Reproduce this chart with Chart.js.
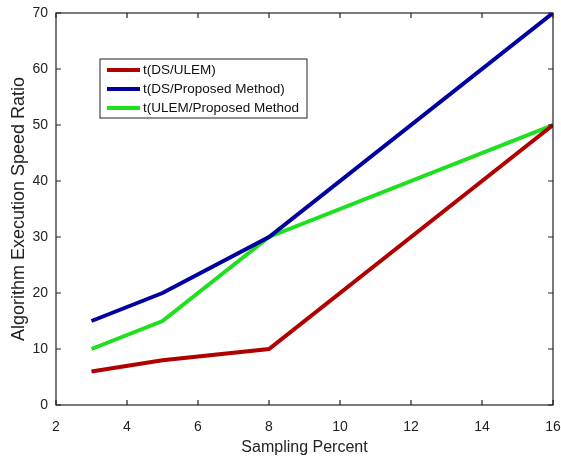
<!DOCTYPE html>
<html>
<head>
<meta charset="utf-8">
<script src="https://cdn.jsdelivr.net/npm/chart.js@4"></script>
<style>
  html, body { margin: 0; padding: 0; background: #fff; }
  #wrap { width: 561px; height: 457px; }
</style>
</head>
<body>
<div id="wrap"><canvas id="c" width="561" height="457"></canvas></div>
<script>
// sampling percent on the x axis
const samplingPercent = [3, 5, 8, 16];
// speed ratios
const dsUlem = [6, 8, 10, 50];
const dsProposed = [15, 20, 30, 70];
const ulemProposed = [10, 15, 30, 50];
const seriesLabels = ['t(DS/ULEM)', 't(DS/Proposed Method)', 't(ULEM/Proposed Method'];
const seriesColors = ['#b00000', '#0000a0', '#1ee01e'];

function toPoints(vals) {
    return samplingPercent.map((x, i) => ({ x: x, y: vals[i] }));
}

// frame with inward ticks, like the original
const boxPlugin = {
    id: 'box',
    afterDatasetsDraw(chart) {
        const ctx = chart.ctx;
        const a = chart.chartArea;
        const xs = chart.scales.x, ys = chart.scales.y;
        ctx.save();
        ctx.strokeStyle = '#222';
        ctx.lineWidth = 1.2;
        ctx.strokeRect(a.left, a.top, a.right - a.left, a.bottom - a.top);
        ctx.beginPath();
        xs.ticks.forEach(t => {
            const px = xs.getPixelForValue(t.value);
            ctx.moveTo(px, a.bottom); ctx.lineTo(px, a.bottom - 5);
            ctx.moveTo(px, a.top); ctx.lineTo(px, a.top + 5);
        });
        ys.ticks.forEach(t => {
            const py = ys.getPixelForValue(t.value);
            ctx.moveTo(a.left, py); ctx.lineTo(a.left + 5, py);
            ctx.moveTo(a.right, py); ctx.lineTo(a.right - 5, py);
        });
        ctx.stroke();
        ctx.restore();
    }
};

// legend box in the upper left of the plot
const legendPlugin = {
    id: 'boxLegend',
    afterDraw(chart) {
        const ctx = chart.ctx;
        const a = chart.chartArea;
        const x0 = a.left + 44, y0 = a.top + 46, w = 207, h = 59;
        ctx.save();
        ctx.fillStyle = '#fff';
        ctx.fillRect(x0, y0, w, h);
        ctx.strokeStyle = '#222';
        ctx.lineWidth = 1;
        ctx.strokeRect(x0, y0, w, h);
        ctx.font = '13.5px "Liberation Sans", Arial, sans-serif';
        ctx.textBaseline = 'middle';
        chart.data.datasets.forEach((ds, i) => {
            const y = y0 + 11 + i * 19;
            ctx.strokeStyle = ds.borderColor;
            ctx.lineWidth = 4;
            ctx.beginPath();
            ctx.moveTo(x0 + 7, y);
            ctx.lineTo(x0 + 40, y);
            ctx.stroke();
            ctx.fillStyle = '#111';
            ctx.fillText(ds.label, x0 + 43, y);
        });
        ctx.restore();
    }
};

const ctx = document.getElementById('c').getContext('2d');
new Chart(ctx, {
    type: 'scatter',
    data: {
        datasets: [dsUlem, dsProposed, ulemProposed].map((vals, i) => ({
            label: seriesLabels[i],
            data: toPoints(vals),
            showLine: true,
            borderColor: seriesColors[i],
            backgroundColor: seriesColors[i],
            borderWidth: 4,
            pointRadius: 0,
            tension: 0
        }))
    },
    options: {
        responsive: false,
        animation: false,
        layout: { padding: { top: 13, right: 8, left: 0, bottom: 0 } },
        plugins: {
            legend: { display: false },
            tooltip: { enabled: false }
        },
        scales: {
            x: {
                type: 'linear',
                min: 2,
                max: 16,
                ticks: { stepSize: 2, color: '#222', font: { size: 14, family: 'Liberation Sans' }, padding: 6 },
                grid: { display: false },
                border: { display: false },
                title: { display: true, text: 'Sampling Percent', color: '#222', font: { size: 16, family: 'Liberation Sans' }, padding: { top: 4, bottom: 0 } },
                afterFit(scale) {
                    scale.height = 52;
                    scale.paddingLeft = 0;
                    scale.paddingRight = 0;
                }
            },
            y: {
                min: 0,
                max: 70,
                ticks: { stepSize: 10, color: '#222', font: { size: 14, family: 'Liberation Sans' }, padding: 0 },
                grid: { display: false },
                border: { display: false },
                title: { display: true, text: 'Algorithm Execution Speed Ratio', color: '#222', font: { size: 18, family: 'Liberation Sans' }, padding: { top: 8, bottom: 0 } },
                afterFit(scale) {
                    scale.width = 56;
                    scale.paddingTop = 0;
                    scale.paddingBottom = 0;
                }
            }
        }
    },
    plugins: [boxPlugin, legendPlugin]
});
</script>
</body>
</html>
